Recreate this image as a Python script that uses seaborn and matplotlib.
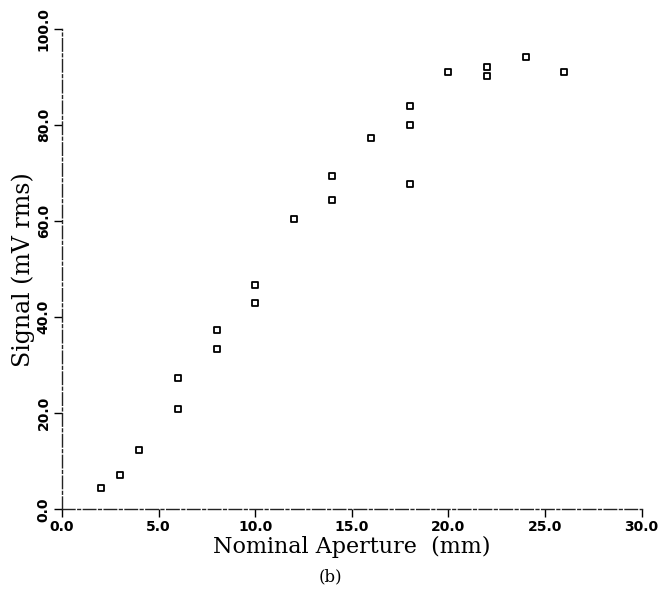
import matplotlib
matplotlib.use("Agg")
import matplotlib.pyplot as plt
import seaborn as sns
import pandas as pd

aperture_mm = [2, 3, 4, 6, 6, 8, 8, 10, 10, 12, 14, 14, 16, 18, 18, 18, 20, 22, 22, 24, 26]
signal_mv = [4.4, 7.1, 12.4, 27.4, 20.9, 37.4, 33.4, 46.7, 43.0, 60.5, 69.4, 64.4,
             77.4, 84.0, 80.1, 67.8, 91.1, 92.1, 90.3, 94.2, 91.2]
x_ticks = [0, 5, 10, 15, 20, 25, 30]
y_ticks = [0, 20, 40, 60, 80, 100]

df = pd.DataFrame({"aperture": aperture_mm, "signal": signal_mv})

sns.set_style("white")
fig = plt.figure(figsize=(6.58, 5.96), dpi=100)
ax = fig.add_axes([0.0942, 0.1455, 0.8808, 0.8053])

sns.scatterplot(data=df, x="aperture", y="signal", marker="s", s=20,
                facecolor="white", edgecolor="black", linewidth=1.3, ax=ax)

ax.set_xlim(0, 30)
ax.set_ylim(0, 100)
ax.set_xticks(x_ticks)
ax.set_yticks(y_ticks)
ax.set_xticklabels([f"{v:.1f}" for v in x_ticks], fontweight="bold", fontsize=10,
                   color="black")
ax.set_yticklabels([f"{v:.1f}" for v in y_ticks], fontweight="bold", fontsize=10,
                   rotation=90, va="center", color="black")
ax.tick_params(axis="both", direction="out", length=6, width=1, color="black",
               pad=2, bottom=True, left=True)

for side in ["top", "right"]:
    ax.spines[side].set_visible(False)
for side in ["left", "bottom"]:
    ax.spines[side].set_color("#222222")
    ax.spines[side].set_linewidth(1.0)
    ax.spines[side].set_linestyle((0, (9, 2, 2, 2)))

ax.set_xlabel("Nominal Aperture  (mm)", family="DejaVu Serif", fontsize=16,
              labelpad=1, color="black")
ax.set_ylabel("Signal (mV rms)", family="DejaVu Serif", fontsize=17,
              labelpad=1, color="black")

fig.text(0.502, 0.032, "(b)", family="DejaVu Serif", fontsize=12, ha="center",
         va="center", color="black")

fig.savefig("out.png", dpi=100)
